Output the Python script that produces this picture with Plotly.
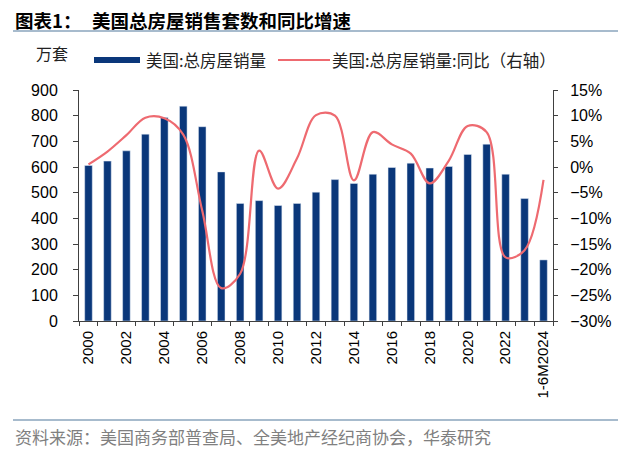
import plotly.graph_objects as go

categories = [str(y) for y in range(2000, 2024)] + ["1-6M2024"]
sales = [606, 623, 663, 728, 793, 837, 757, 581, 458, 469, 450, 458, 502,
         551, 536, 572, 598, 615, 596, 602, 649, 689, 572, 477, 238]
yoy = [0.5, 3.0, 6.2, 9.6, 9.5, 6.3, -8.5, -23.6, -20.8, 3.2, -4.2, 1.7, 10.1,
       10.0, -2.6, 6.8, 4.4, 2.6, -3.2, 1.2, 8.0, 6.8, -17.6, -16.2, -2.5]
tick_text = [c if (i % 2 == 0) else "" for i, c in enumerate(categories)]

# page body has an 8px default margin: compensate
OFF = 8
W, H = 640 - OFF, 452 - OFF
L, R, T, B = 79, 553, 90, 321
def px(x):
    return (x - L) / (R - L)
def py(y):
    return (B - y) / (B - T)

NAVY = "#0A377A"
RED = "#EE6A70"
AXIS = "#404040"
SANS = "Liberation Sans, Arial, sans-serif"
CJK = "Noto Sans CJK SC"

fig = go.Figure()
fig.add_trace(go.Bar(x=categories, y=sales, marker_color=NAVY, name="美国:总房屋销量",
                     showlegend=False))
fig.add_trace(go.Scatter(x=categories, y=yoy, yaxis="y2", mode="lines",
                         line=dict(color=RED, width=2.2, shape="spline", smoothing=1.0),
                         name="美国:总房屋销量:同比（右轴）", showlegend=False))

fig.update_layout(
    width=W, height=H,
    margin=dict(l=L - OFF, r=640 - R, t=T - OFF, b=452 - B),
    plot_bgcolor="white", paper_bgcolor="white",
    bargap=0.6,
    font=dict(family=SANS, size=15, color="#000000"),
    xaxis=dict(type="category", tickvals=categories, ticktext=tick_text,
               tickangle=-90, showline=True, linecolor=AXIS, linewidth=1,
               ticks="outside", ticklen=4, tickcolor=AXIS, tickson="boundaries",
               showgrid=False, ticklabelstandoff=3,
               tickfont=dict(family=SANS, size=15)),
    yaxis=dict(range=[0, 900], dtick=100, showline=True, linecolor=AXIS,
               ticks="outside", ticklen=5, tickcolor=AXIS, showgrid=False,
               zeroline=False, ticklabelstandoff=12,
               tickfont=dict(family=SANS, size=16)),
    yaxis2=dict(range=[-30, 15], dtick=5, overlaying="y", side="right",
                showline=True, linecolor=AXIS, ticks="outside", ticklen=4,
                tickcolor=AXIS, showgrid=False, zeroline=False, ticksuffix="%",
                ticklabelstandoff=9, tickfont=dict(family=SANS, size=16)),
)

shapes = [
    dict(type="line", xref="paper", yref="paper", x0=px(13), x1=px(618), y0=py(31), y1=py(31),
         line=dict(color="#8AA4BC", width=1.5)),
    dict(type="line", xref="paper", yref="paper", x0=px(13), x1=px(618), y0=py(420), y1=py(420),
         line=dict(color="#8AA4BC", width=1.5)),
    dict(type="rect", xref="paper", yref="paper", x0=px(94), x1=px(140), y0=py(63), y1=py(57),
         fillcolor=NAVY, line=dict(width=0)),
    dict(type="line", xref="paper", yref="paper", x0=px(278), x1=px(330), y0=py(60), y1=py(60),
         line=dict(color=RED, width=2.2)),
]
fig.update_layout(shapes=shapes)

def ann(text, x, y, size, color="#000000", bold=False, family=CJK):
    t = "<b>%s</b>" % text if bold else text
    fig.add_annotation(text=t, xref="paper", yref="paper", x=px(x), y=py(y),
                       xanchor="left", yanchor="middle", showarrow=False,
                       borderpad=0,
                       font=dict(family=family, size=size, color=color))

ann("图表1：", 14, 20.5, 18.5, "#000000", True)
ann("美国总房屋销售套数和同比增速", 91, 20.5, 18.5, "#000000", True)
ann("万套", 35, 53, 16, "#222222")
ann("美国:总房屋销量", 145, 60, 16.5, "#222222")
ann("美国:总房屋销量:同比（右轴）", 331, 60, 16.5, "#222222")
ann("资料来源：美国商务部普查局、全美地产经纪商协会，华泰研究", 14, 437, 17, "#808080")

fig.write_html("out.html")
